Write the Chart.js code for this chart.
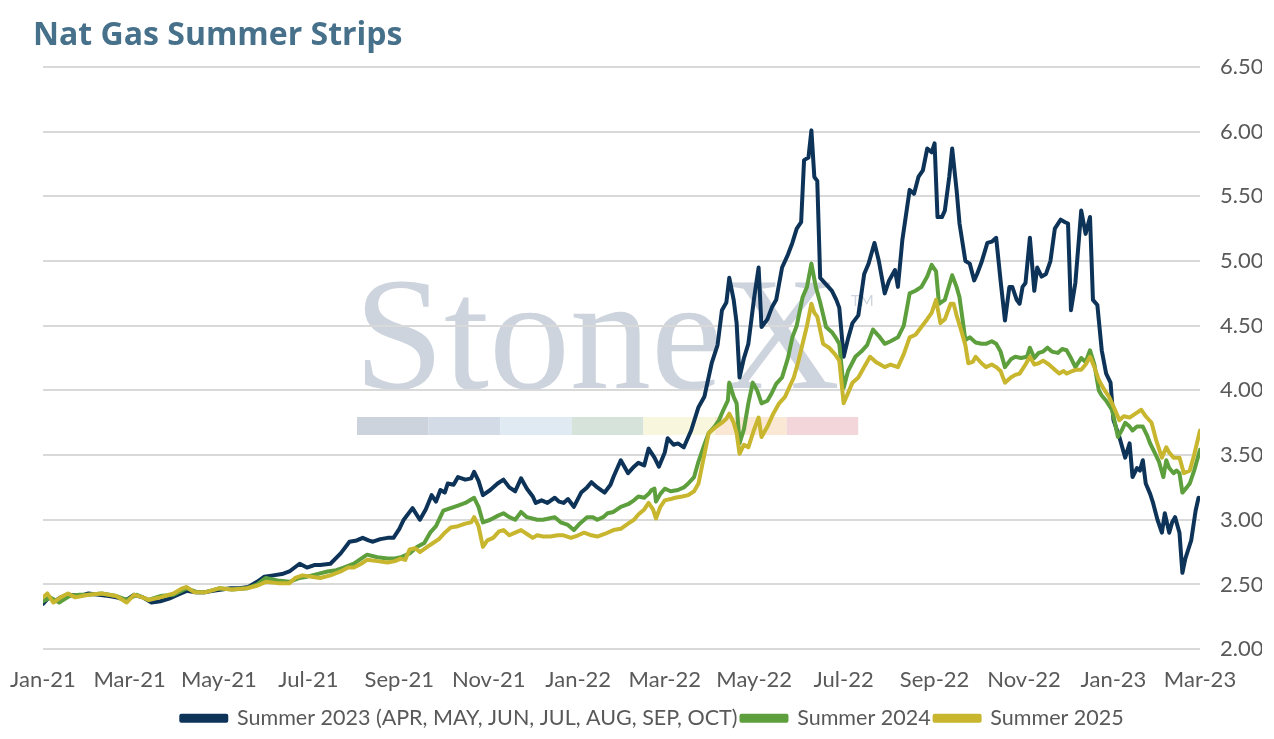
<!DOCTYPE html>
<html>
<head>
<meta charset="utf-8">
<title>Nat Gas Summer Strips</title>
<script src="https://cdn.jsdelivr.net/npm/chart.js@4.4.1/dist/chart.umd.min.js"></script>
<style>
  html, body { margin: 0; padding: 0; background: #ffffff; }
  #wrap { position: relative; width: 1274px; height: 739px; }
</style>
</head>
<body>
<div id="wrap"><canvas id="chart" width="1274" height="739"></canvas></div>
<script>
// x values are days counted from 1 Jan 2021
const tickDays = [0, 59, 120, 181, 243, 304, 365, 424, 485, 546, 608, 669, 730, 789];
const tickLabels = ["Jan-21", "Mar-21", "May-21", "Jul-21", "Sep-21", "Nov-21", "Jan-22",
                    "Mar-22", "May-22", "Jul-22", "Sep-22", "Nov-22", "Jan-23", "Mar-23"];
const seriesNames = ["Summer 2023 (APR, MAY, JUN, JUL, AUG, SEP, OCT)", "Summer 2024", "Summer 2025"];

const s23Days = [0,4,8,12,18,25,31,38,45,50,57,62,68,74,80,86,92,98,104,110,116,122,128,134,140,146,151,157,163,168,
  175,180,185,189,196,203,209,214,218,222,225,230,235,239,243,246,252,257,261,265,268,271,274,276,280,283,288,292,294,297,
  300,305,310,314,318,322,326,330,334,336,340,344,349,352,355,358,362,367,371,374,378,383,387,389,394,399,403,406,410,413,
  417,420,424,426,430,433,437,442,447,451,456,460,463,466,468,471,473,475,478,481,485,488,490,494,497,500,504,508,511,514,
  517,519,522,524,526,528,530,534,538,541,543,546,549,552,556,560,563,567,570,574,577,581,583,586,591,594,597,600,603,606,
  608,610,613,615,618,620,623,625,629,632,635,637,640,644,647,650,653,656,659,661,664,666,668,670,673,676,678,681,684,687,
  690,694,697,699,701,704,708,711,714,716,719,722,725,728,730,734,738,741,743,746,748,750,752,755,757,760,763,765,768,770,
  772,775,777,779,781,783,786,788];
const s23Values = [2.35,2.40,2.37,2.40,2.42,2.41,2.43,2.42,2.41,2.40,2.38,2.42,2.40,2.36,2.37,2.39,2.42,2.45,2.44,2.44,2.45,2.46,2.47,2.47,2.48,2.52,2.56,2.57,2.58,2.60,
  2.66,2.63,2.65,2.65,2.66,2.74,2.83,2.84,2.86,2.84,2.83,2.85,2.86,2.86,2.93,3.00,3.09,3.00,3.08,3.19,3.14,3.23,3.21,3.28,3.27,3.33,3.31,3.32,3.37,3.30,
  3.19,3.23,3.28,3.31,3.25,3.22,3.32,3.24,3.18,3.13,3.15,3.13,3.17,3.14,3.13,3.16,3.10,3.21,3.25,3.29,3.25,3.21,3.27,3.33,3.46,3.36,3.41,3.44,3.42,3.55,
  3.48,3.41,3.52,3.63,3.58,3.59,3.56,3.69,3.87,3.95,4.21,4.35,4.62,4.68,4.87,4.70,4.52,4.10,4.25,4.36,4.72,4.95,4.49,4.55,4.64,4.70,4.95,5.05,5.14,5.25,
  5.30,5.78,5.80,6.01,5.65,5.62,4.87,4.82,4.77,4.70,4.64,4.26,4.40,4.52,4.58,4.90,4.98,5.14,5.00,4.75,4.85,4.93,4.80,5.16,5.55,5.52,5.65,5.70,5.87,5.84,
  5.91,5.34,5.34,5.39,5.65,5.87,5.55,5.29,5.00,4.98,4.85,4.90,4.99,5.14,5.15,5.18,4.85,4.54,4.80,4.80,4.70,4.67,4.80,4.83,5.18,4.77,4.95,4.88,4.90,5.00,
  5.25,5.32,5.30,5.29,4.62,4.83,5.39,5.21,5.34,4.70,4.66,4.31,4.13,4.06,3.77,3.64,3.48,3.59,3.33,3.40,3.38,3.46,3.28,3.20,3.13,3.00,2.90,3.05,2.90,2.98,
  3.02,2.90,2.59,2.70,2.77,2.84,3.07,3.17];

const s24Days = [0,5,11,18,25,31,40,50,57,64,72,80,89,98,105,111,120,129,139,146,152,160,168,175,180,187,194,200,205,212,
  221,228,235,240,244,250,255,260,264,268,273,278,283,288,294,297,300,305,310,314,318,322,326,330,337,341,345,349,353,358,
  362,366,371,375,378,382,385,389,394,399,403,406,410,413,415,417,418,421,424,428,433,437,440,444,447,451,454,458,461,464,
  467,468,471,473,475,478,481,484,487,490,494,497,500,504,508,511,514,518,521,524,527,530,534,538,541,543,546,549,554,558,
  562,566,570,574,578,583,587,591,595,599,603,606,609,611,615,620,623,625,629,632,636,640,643,647,650,653,656,660,663,667,
  671,673,676,679,682,685,688,692,695,698,701,704,708,711,714,717,720,722,725,729,731,733,736,738,741,743,746,750,753,755,
  758,761,764,766,768,771,773,775,777,780,782,785,789];
const s24Values = [2.37,2.40,2.36,2.41,2.42,2.42,2.43,2.41,2.38,2.42,2.38,2.41,2.42,2.47,2.44,2.44,2.47,2.46,2.47,2.50,2.55,2.53,2.52,2.55,2.56,2.58,2.60,2.61,2.63,2.66,
  2.73,2.71,2.70,2.70,2.71,2.74,2.79,2.82,2.90,2.95,3.07,3.09,3.11,3.13,3.17,3.10,2.98,3.00,3.03,3.05,3.02,3.00,3.06,3.02,3.00,3.00,3.01,3.02,2.98,2.96,
  2.92,2.97,3.02,3.02,3.00,3.02,3.05,3.06,3.10,3.12,3.15,3.18,3.17,3.20,3.23,3.24,3.14,3.20,3.24,3.22,3.23,3.25,3.28,3.33,3.45,3.58,3.67,3.72,3.77,3.85,
  3.92,4.06,3.95,3.90,3.59,3.70,3.90,4.06,4.00,3.90,3.92,3.98,4.05,4.10,4.25,4.41,4.50,4.72,4.80,4.98,4.80,4.68,4.49,4.45,4.40,4.36,4.02,4.15,4.26,4.30,
  4.35,4.47,4.42,4.36,4.38,4.41,4.50,4.75,4.77,4.80,4.88,4.97,4.92,4.67,4.70,4.89,4.80,4.72,4.39,4.41,4.37,4.36,4.36,4.38,4.36,4.30,4.18,4.24,4.26,4.25,
  4.26,4.33,4.25,4.29,4.30,4.33,4.30,4.29,4.32,4.31,4.25,4.18,4.25,4.22,4.31,4.20,4.00,3.96,3.92,3.85,3.75,3.64,3.70,3.75,3.72,3.69,3.72,3.72,3.65,3.59,
  3.52,3.45,3.33,3.46,3.40,3.36,3.38,3.36,3.21,3.25,3.28,3.38,3.54];

const s25Days = [0,3,7,12,17,22,31,40,50,57,62,68,72,80,89,95,98,103,111,120,129,139,146,152,160,168,172,177,183,189,
  196,203,208,212,217,221,228,235,240,244,247,250,254,257,262,266,270,274,278,283,288,292,294,297,300,303,307,311,314,318,
  322,326,330,334,337,341,346,351,355,360,365,369,374,378,383,389,394,399,403,406,410,413,416,418,421,424,428,431,436,440,
  444,447,450,454,458,463,466,468,471,473,475,478,481,485,488,490,494,498,502,506,510,512,515,518,521,524,526,528,532,536,
  540,543,546,549,552,556,560,564,568,571,574,578,583,587,591,595,599,603,606,609,612,615,619,621,623,626,629,631,634,636,
  640,643,647,650,653,656,660,663,666,670,673,676,679,682,686,690,693,696,698,702,705,708,711,714,717,720,724,727,729,731,
  734,737,741,745,749,752,756,759,763,766,768,771,775,778,782,785,789];
const s25Values = [2.40,2.43,2.36,2.40,2.43,2.40,2.42,2.43,2.41,2.36,2.42,2.40,2.38,2.40,2.43,2.47,2.48,2.44,2.44,2.47,2.46,2.47,2.49,2.52,2.51,2.51,2.55,2.57,2.56,2.55,
  2.57,2.60,2.63,2.63,2.66,2.69,2.68,2.67,2.68,2.70,2.69,2.77,2.78,2.75,2.79,2.82,2.85,2.90,2.94,2.95,2.97,2.98,3.02,2.95,2.79,2.84,2.86,2.91,2.92,2.88,
  2.90,2.92,2.89,2.86,2.88,2.87,2.87,2.88,2.88,2.86,2.88,2.90,2.88,2.87,2.89,2.92,2.93,2.97,3.00,3.04,3.08,3.13,3.08,3.01,3.10,3.15,3.16,3.17,3.18,3.19,
  3.22,3.28,3.45,3.67,3.71,3.75,3.78,3.82,3.75,3.67,3.51,3.58,3.56,3.70,3.79,3.64,3.72,3.82,3.90,3.95,4.05,4.10,4.22,4.36,4.50,4.67,4.60,4.57,4.36,4.33,
  4.28,4.23,3.90,3.98,4.06,4.10,4.18,4.26,4.22,4.20,4.18,4.20,4.18,4.28,4.41,4.43,4.49,4.55,4.60,4.70,4.52,4.55,4.67,4.67,4.58,4.47,4.35,4.21,4.22,4.26,
  4.21,4.18,4.20,4.18,4.15,4.06,4.10,4.12,4.13,4.20,4.26,4.20,4.21,4.23,4.20,4.16,4.13,4.15,4.13,4.15,4.16,4.16,4.20,4.26,4.18,4.08,4.00,3.95,3.90,3.85,
  3.77,3.80,3.79,3.82,3.85,3.80,3.75,3.62,3.48,3.56,3.52,3.48,3.48,3.36,3.38,3.50,3.69];

function toPoints(days, values) {
  return days.map((d, i) => ({ x: d, y: values[i] }));
}

// faint logo + title painted on the canvas
const decor = {
  id: "decor",
  beforeDraw(chart) {
    const ctx = chart.ctx;
    ctx.save();
    ctx.fillStyle = "#cdd4dd";
    ctx.font = "162px 'Liberation Serif'";
    ctx.textBaseline = "alphabetic";
    ctx.fillText("StoneX", 354, 388);
    ctx.font = "15px Lato";
    ctx.fillText("TM", 851, 306);
    const bars = ["#cdd3dc", "#d3dce6", "#dfeaf3", "#d5e3da", "#f8f6dc", "#fae8d5", "#f3d6da"];
    const w = 71.6;
    bars.forEach((c, i) => {
      ctx.fillStyle = c;
      ctx.fillRect(357 + i * w, 417, w, 18);
    });
    ctx.fillStyle = "#47708b";
    ctx.font = "bold 32px 'Open Sans'";
    ctx.fillText("Nat Gas Summer Strips", 33, 45);
    ctx.restore();
  }
};

const ctx = document.getElementById("chart").getContext("2d");
Chart.defaults.font.family = "Lato";
Chart.defaults.color = "#595959";

const chart = new Chart(ctx, {
  type: "line",
  data: {
    datasets: [
      { label: seriesNames[0], data: toPoints(s23Days, s23Values), borderColor: "#0d3358", backgroundColor: "#0d3358", order: 3 },
      { label: seriesNames[1], data: toPoints(s24Days, s24Values), borderColor: "#5c9f3c", backgroundColor: "#5c9f3c", order: 2 },
      { label: seriesNames[2], data: toPoints(s25Days, s25Values), borderColor: "#c8b62e", backgroundColor: "#c8b62e", order: 1 }
    ]
  },
  options: {
    responsive: false,
    animation: false,
    layout: { padding: { left: 43, right: 12, top: 67, bottom: 0 } },
    elements: {
      line: { borderWidth: 4, tension: 0, borderJoinStyle: "round", borderCapStyle: "round" },
      point: { radius: 0, hoverRadius: 0 }
    },
    scales: {
      x: {
        type: "linear",
        min: 0,
        max: 789,
        afterBuildTicks(scale) {
          scale.ticks = tickDays.map(d => ({ value: d }));
        },
        ticks: {
          autoSkip: false,
          maxRotation: 0,
          padding: 10,
          font: { size: 22 },
          color: "#595959",
          callback(value) {
            const i = tickDays.indexOf(value);
            return i >= 0 ? tickLabels[i] : "";
          }
        },
        grid: { display: false },
        border: { display: false }
      },
      y: {
        position: "right",
        min: 2,
        max: 6.5,
        afterFit(scale) {
          scale.width = 62;
        },
        ticks: {
          stepSize: 0.5,
          padding: 20,
          font: { size: 22 },
          color: "#595959",
          callback: v => v.toFixed(2)
        },
        grid: { color: "#d9d9d9", lineWidth: 2, drawTicks: false },
        border: { display: false }
      }
    },
    plugins: {
      legend: {
        position: "bottom",
        labels: {
          boxWidth: 45,
          boxHeight: 5,
          padding: 4,
          font: { size: 21.5 },
          color: "#595959",
          sort: (a, b) => a.datasetIndex - b.datasetIndex
        }
      },
      tooltip: { enabled: false }
    }
  },
  plugins: [decor]
});
</script>
</body>
</html>
